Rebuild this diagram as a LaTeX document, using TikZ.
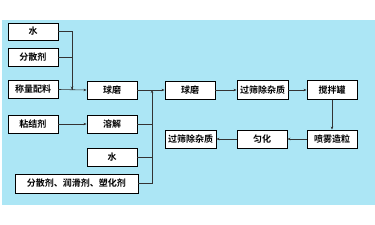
\documentclass[tikz,border=0pt]{standalone}
\usepackage{fontspec}
\newfontfamily\cjk{Noto Sans CJK SC}[BoldFont={Noto Sans CJK SC Bold}]
\usetikzlibrary{arrows.meta}
\definecolor{bgblue}{RGB}{172,230,245}
\begin{document}
\begin{tikzpicture}[x=1pt,y=-1pt,
  box/.style={draw=black,line width=0.9pt,fill=white,inner sep=0pt,font=\cjk\bfseries\fontsize{9}{10}\selectfont},
  conn/.style={draw=black!80,line width=0.6pt},
  arr/.style={conn,-{Stealth[length=3pt,width=2.5pt]}}]
\useasboundingbox (0,0) rectangle (375,225);
\fill[bgblue] (2,20) rectangle (375,205);
% left column
\node[box,minimum width=50pt,minimum height=17pt] (w1) at (33,31.5) {水};
\node[box,minimum width=50pt,minimum height=18pt] (fs) at (33,57.5) {分散剂};
\node[box,minimum width=50pt,minimum height=18pt] (cl) at (33,89.5) {称量配料};
\node[box,minimum width=50pt,minimum height=18pt] (qm1) at (112,90) {球磨};
\node[box,minimum width=50pt,minimum height=18pt] (qm2) at (190,90) {球磨};
\node[box,minimum width=51pt,minimum height=19pt] (gs1) at (262.5,90) {过筛除杂质};
\node[box,minimum width=50pt,minimum height=19pt] (jb) at (332,90) {搅拌罐};
\node[box,minimum width=50pt,minimum height=18pt] (nj) at (33,124) {粘结剂};
\node[box,minimum width=50pt,minimum height=18pt] (rj) at (112,124) {溶解};
\node[box,minimum width=50pt,minimum height=18pt] (w2) at (112,157.5) {水};
\node[box,minimum width=123pt,minimum height=19pt] (fr) at (76.5,183.5) {分散剂、润滑剂、塑化剂};
\node[box,minimum width=51pt,minimum height=18pt] (gs2) at (190.5,139) {过筛除杂质};
\node[box,minimum width=50pt,minimum height=18pt] (yh) at (262,139) {匀化};
\node[box,minimum width=50pt,minimum height=18pt] (pw) at (332,139) {喷雾造粒};
% junctions
\coordinate (j1) at (72,89.5);
\coordinate (j2) at (152,90);
% connectors
\draw[conn] (w1.east) -- (72,31.5) -- (j1);
\draw[conn] (fs.east) -- (72,57.5);
\draw[arr] (72,80) -- (j1);
\draw[arr] (cl.east) -- (qm1.west);
\draw[arr] (qm1.east) -- (qm2.west);
\draw[conn] (rj.east) -- (152,124);
\draw[conn] (w2.east) -- (152,157.5);
\draw[conn] (fr.east) -- (152,183.5) -- (152,100);
\draw[arr] (152,100) -- (j2);
\draw[arr] (nj.east) -- (rj.west);
\draw[arr] (qm2.east) -- (gs1.west);
\draw[arr] (gs1.east) -- (jb.west);
\draw[arr] (jb.south) -- (pw.north);
\draw[arr] (pw.west) -- (yh.east);
\draw[arr] (yh.west) -- (gs2.east);
\end{tikzpicture}
\end{document}
